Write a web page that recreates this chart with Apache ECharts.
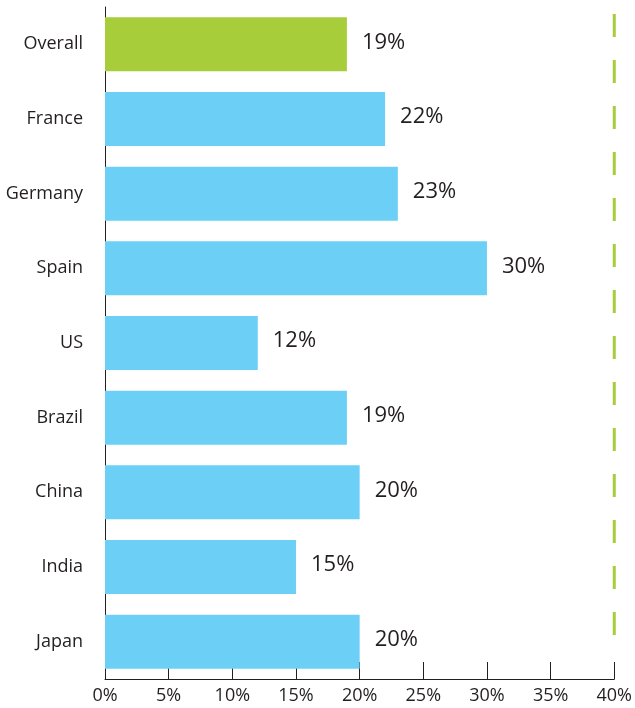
<!DOCTYPE html>
<html><head><meta charset="utf-8">
<script src="https://cdn.jsdelivr.net/npm/echarts@6/dist/echarts.min.js"></script>
<style>html,body{margin:0;padding:0;background:#fff}#c{width:635px;height:708px}</style>
</head><body><div id="c"></div>
<script>
var categories = ['Overall','France','Germany','Spain','US','Brazil','China','India','Japan'];
var values = [19, 22, 23, 30, 12, 19, 20, 15, 20];
var tickLabels = ['0%','5%','10%','15%','20%','25%','30%','35%','40%'];
var targetValue = 40;
// helper vertical extent (0-100 scale of plot height) for the dashed target line
var targetSpan = [98.96, 6.0];

var GREEN = '#a7cd3a', BLUE = '#6bcff6', TEXT = '#231f20';
var FONT = 'Open Sans';
var chart = echarts.init(document.getElementById('c'), null, {renderer:'canvas'});
chart.setOption({
  animation: false,
  grid: {left: 105, right: 19, top: 7, bottom: 29, containLabel: false},
  xAxis: {
    type: 'value', min: 0, max: 40, interval: 5,
    axisLine: {show: true, lineStyle: {color: TEXT, width: 1}},
    axisTick: {show: true, inside: true, length: 17, lineStyle: {color: TEXT}},
    splitLine: {show: false},
    axisLabel: {color: TEXT, fontFamily: FONT, fontSize: 18, margin: 8,
      formatter: function(v){ return tickLabels[Math.round(v/5)]; }}
  },
  yAxis: [{
    type: 'category', data: categories, inverse: true,
    axisLine: {show: true, lineStyle: {color: TEXT, width: 1}},
    axisTick: {show: false},
    axisLabel: {color: TEXT, fontFamily: FONT, fontSize: 18, margin: 22}
  }, {
    type: 'value', min: 0, max: 100, show: false
  }],
  series: [{
    type: 'bar', barWidth: 54, yAxisIndex: 0,
    data: values.map(function(v,i){ return {value: v, itemStyle: {color: i===0 ? GREEN : BLUE}}; }),
    label: {show: true, position: 'right', distance: 15, offset: [0,-2], color: TEXT, fontFamily: FONT, fontSize: 22,
      formatter: function(p){ return p.value + '%'; }}
  }, {
    type: 'line', yAxisIndex: 1, symbol: 'none', silent: true,
    data: [[targetValue, targetSpan[0]], [targetValue, targetSpan[1]]],
    lineStyle: {color: GREEN, width: 3, type: [23,23]}
  }]
});
</script></body></html>
